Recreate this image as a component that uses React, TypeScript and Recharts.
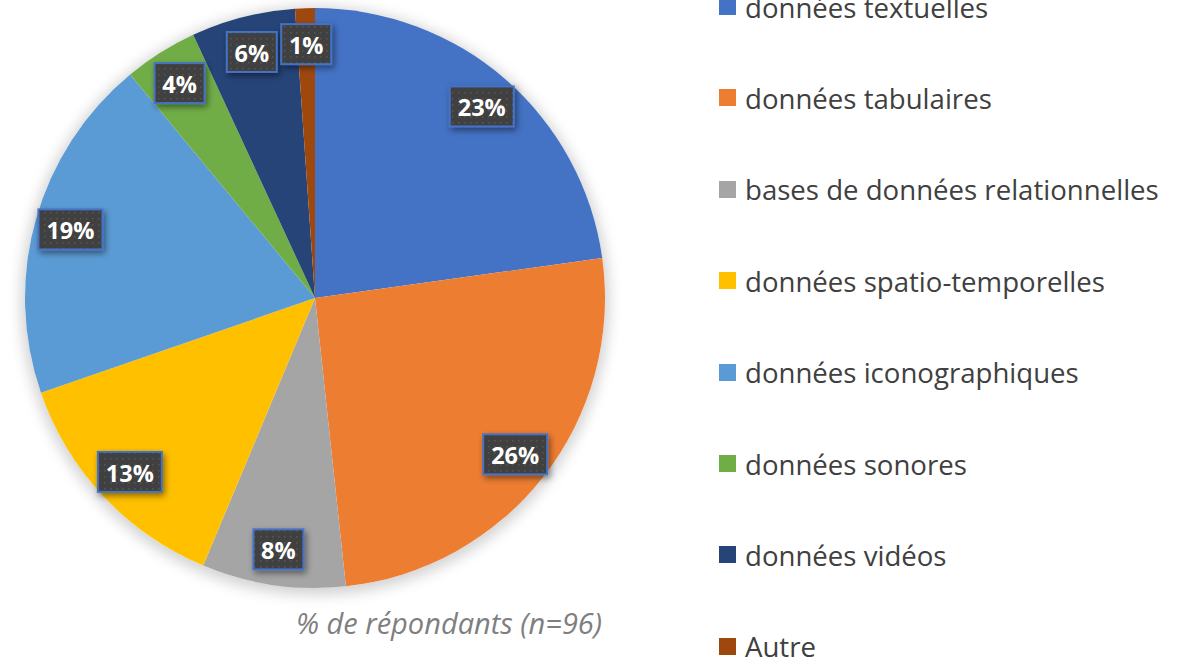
import React from "react";
import { PieChart, Pie, Cell, Legend } from "recharts";

const categories = [
  "données textuelles",
  "données tabulaires",
  "bases de données relationnelles",
  "données spatio-temporelles",
  "données iconographiques",
  "données sonores",
  "données vidéos",
  "Autre",
];
const shares = [22.8, 25.5, 8.0, 13.4, 19.3, 4.1, 5.8, 1.1];
const colors = ["#4472C4", "#ED7D31", "#A5A5A5", "#FFC000", "#5B9BD5", "#70AD47", "#264478", "#9E480E"];
const caption = "% de répondants (n=96)";

const data = categories.map((name, i) => ({ name, value: shares[i] }));

const W = 1187;
const H = 658;
const CX = 315;
const CY = 298;
const R = 290;
const RADIAN = Math.PI / 180;

const renderLabel = (props: any) => {
  const { cx, cy, midAngle, value } = props;
  const r = 254;
  const x = cx + r * Math.cos(-midAngle * RADIAN);
  const y = cy + r * Math.sin(-midAngle * RADIAN);
  const text = `${Math.round(value)}%`;
  const w = (text.length - 1) * 14 + 20 + 16;
  const h = 40;
  return (
    <g>
      <rect x={x - w / 2} y={y - h / 2} width={w} height={h} fill="url(#dotPat)" stroke="#4472C4" strokeWidth={2} filter="url(#boxShadow)" />
      <text x={x} y={y + 1} textAnchor="middle" dominantBaseline="central" fill="#FFFFFF" fontFamily="'Open Sans', sans-serif" fontWeight={700} fontSize={23.5}>
        {text}
      </text>
    </g>
  );
};

const renderLegend = (props: any) => {
  const payload: any[] = props.payload || [];
  return (
    <div style={{ position: "relative", width: 468, height: H }}>
      {categories.map((name, i) => {
        const entry = payload.find((p) => p.value === name);
        return (
          <div
            key={name}
            style={{
              position: "absolute",
              left: 0,
              top: 6.5 + i * 91.4 - 20,
              height: 40,
              display: "flex",
              alignItems: "center",
              whiteSpace: "nowrap",
            }}
          >
            <div style={{ width: 17, height: 17, background: (entry && entry.color) || colors[i], marginRight: 9 }} />
            <span style={{ fontFamily: "'Open Sans', sans-serif", fontSize: 27.6, color: "#404040" }}>{name}</span>
          </div>
        );
      })}
    </div>
  );
};

export default function App() {
  return (
    <div style={{ position: "absolute", left: 0, top: 0, width: W, height: H, background: "#fff", overflow: "hidden" }}>
      <div
        style={{
          position: "absolute",
          left: CX - R,
          top: CY - R,
          width: 2 * R,
          height: 2 * R,
          borderRadius: "50%",
          boxShadow: "0 3px 14px 4px rgba(0,0,0,0.18)",
        }}
      />
      <div
        style={{
          position: "absolute",
          left: 449 - 250,
          top: 623 - 20,
          width: 500,
          height: 40,
          lineHeight: "40px",
          textAlign: "center",
          fontFamily: "'Open Sans', sans-serif",
          fontStyle: "italic",
          fontSize: 29,
          color: "#7F7F7F",
        }}
      >
        {caption}
      </div>
      <div style={{ position: "absolute", left: 0, top: 0 }}>
        <PieChart width={W} height={H} margin={{ top: 0, right: 0, bottom: 0, left: 0 }}>
          <defs>
            <pattern id="dotPat" width="6" height="6" patternUnits="userSpaceOnUse">
              <rect width="6" height="6" fill="#404040" />
              <rect x="2" y="2" width="1.5" height="1.5" fill="#575757" />
            </pattern>
            <filter id="boxShadow" x="-30%" y="-30%" width="160%" height="180%">
              <feDropShadow dx="2" dy="3" stdDeviation="3" floodColor="#000" floodOpacity="0.45" />
            </filter>
          </defs>
          <Pie
            data={data}
            dataKey="value"
            nameKey="name"
            cx={CX}
            cy={CY}
            outerRadius={R}
            startAngle={90}
            endAngle={-270}
            stroke="none"
            label={renderLabel}
            labelLine={false}
            isAnimationActive={false}
          >
            {data.map((d, i) => (
              <Cell key={d.name} fill={colors[i]} />
            ))}
          </Pie>
          <Legend
            content={renderLegend}
            layout="vertical"
            wrapperStyle={{ position: "absolute", left: 719, top: 0, width: 468, height: H }}
          />
        </PieChart>
      </div>
    </div>
  );
}
